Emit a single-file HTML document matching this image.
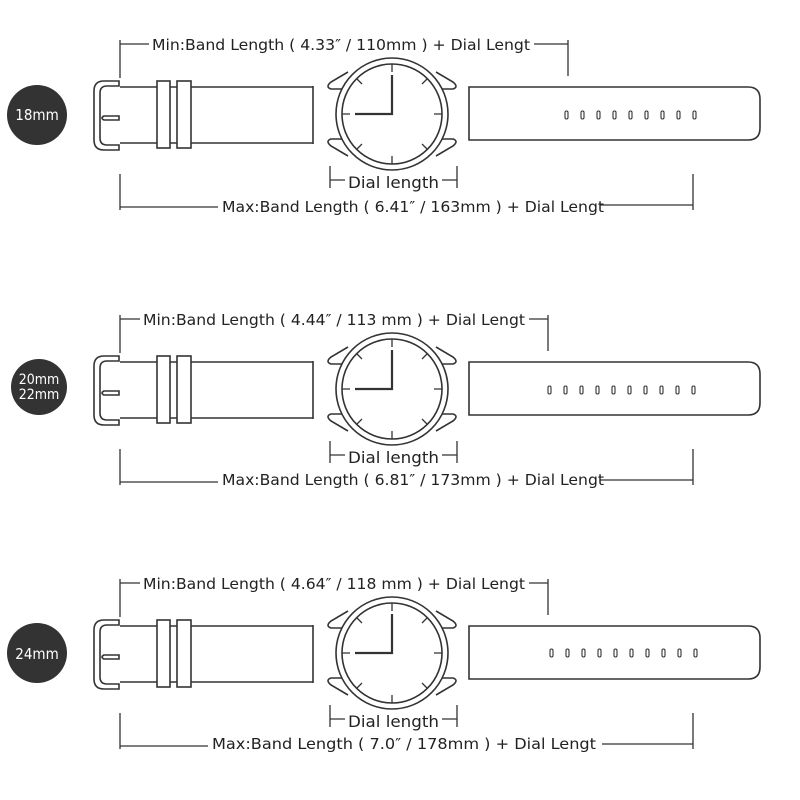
<!DOCTYPE html>
<html><head><meta charset="utf-8"><style>
html,body{margin:0;padding:0;background:#fff;}
svg{display:block;}
text{font-family:"DejaVu Sans Condensed","Liberation Sans",sans-serif;font-size:15px;fill:#222;}
</style></head><body>
<svg width="800" height="800" viewBox="0 0 800 800" xmlns="http://www.w3.org/2000/svg">
<defs>
<g id="strap" fill="none" stroke="#333" stroke-width="1.6">
  <!-- buckle -->
  <path d="M119,81 L104,81 Q94,81 94,91 L94,140 Q94,150 104,150 L119,150 L119,145 L107,145 Q100,145 100,138 L100,93 Q100,86 107,86 L119,86 Z"/>
  <path d="M104,116 L119,116 L119,120 L104,120 Q100,118 104,116 Z"/>
  <!-- left band -->
  <path d="M120,87 L313,87 M120,143 L313,143 M313,86 L313,144"/>
  <rect x="157" y="81" width="13" height="67" fill="#fff"/>
  <rect x="177" y="81" width="14" height="67" fill="#fff"/>
  <!-- watch lugs -->
  <path d="M348,72 L331,82 Q325,87 331,89 L342,89"/>
  <path d="M348,156 L331,146 Q325,141 331,139 L342,139"/>
  <path d="M436,72 L453,82 Q459,87 453,89 L442,89"/>
  <path d="M436,156 L453,146 Q459,141 453,139 L442,139"/>
  <circle cx="392" cy="114" r="56" fill="#fff"/>
  <circle cx="392" cy="114" r="50"/>
  <g stroke-width="1.3">
    <path d="M392,64 V72 M392,156 V164 M342,114 H350 M434,114 H442"/>
    <path d="M357,79 L362,84 M427,79 L422,84 M357,149 L362,144 M427,149 L422,144"/>
  </g>
  <path d="M392,75 V114 H355" stroke-width="2.2"/>
  <!-- right band -->
  <path d="M469,87 L748,87 Q760,87 760,99 L760,128 Q760,140 748,140 L469,140 Z" fill="#fff"/>
</g>
<rect id="hole" width="3" height="8" rx="1.5" fill="none" stroke="#333" stroke-width="1.1"/>
</defs>

<!-- Section 1 -->
<g>
  <circle cx="37" cy="115" r="30" fill="#333"/>
  <text x="37" y="120" text-anchor="middle" style="fill:#fff;font-size:15px">18mm</text>
  <use href="#strap"/>
  <g transform="translate(565,111)"><use href="#hole" x="0"/><use href="#hole" x="16"/><use href="#hole" x="32"/><use href="#hole" x="48"/><use href="#hole" x="64"/><use href="#hole" x="80"/><use href="#hole" x="96"/><use href="#hole" x="112"/><use href="#hole" x="128"/></g>
  <g stroke="#333" stroke-width="1.3" fill="none">
    <path d="M120,40 V78 M120,44 H149 M534,44 H568 M568,40 V76"/>
    <path d="M330,166 V188 M330,180 H345 M442,180 H457 M457,166 V188"/>
    <path d="M120,174 V210 M120,207 H218 M600,205 H693 M693,174 V210"/>
  </g>
  <text x="152" y="50" textLength="378" lengthAdjust="spacingAndGlyphs">Min:Band Length ( 4.33″ / 110mm ) + Dial Lengt</text>
  <text x="348" y="188" textLength="91" lengthAdjust="spacingAndGlyphs" style="font-size:16px">Dial length</text>
  <text x="222" y="212" textLength="382" lengthAdjust="spacingAndGlyphs">Max:Band Length ( 6.41″ / 163mm ) + Dial Lengt</text>
</g>

<!-- Section 2 -->
<g transform="translate(0,275)">
  <circle cx="39" cy="112" r="28" fill="#333"/>
  <text x="39" y="109" text-anchor="middle" style="fill:#fff;font-size:14px">20mm</text>
  <text x="39" y="124" text-anchor="middle" style="fill:#fff;font-size:14px">22mm</text>
  <use href="#strap"/>
  <g transform="translate(548,111)"><use href="#hole" x="0"/><use href="#hole" x="16"/><use href="#hole" x="32"/><use href="#hole" x="48"/><use href="#hole" x="64"/><use href="#hole" x="80"/><use href="#hole" x="96"/><use href="#hole" x="112"/><use href="#hole" x="128"/><use href="#hole" x="144"/></g>
  <g stroke="#333" stroke-width="1.3" fill="none">
    <path d="M120,40 V78 M120,44 H140 M529,44 H548 M548,40 V76"/>
    <path d="M330,166 V188 M330,180 H345 M442,180 H457 M457,166 V188"/>
    <path d="M120,174 V210 M120,207 H218 M600,205 H693 M693,174 V210"/>
  </g>
  <text x="143" y="50" textLength="382" lengthAdjust="spacingAndGlyphs">Min:Band Length ( 4.44″ / 113 mm ) + Dial Lengt</text>
  <text x="348" y="188" textLength="91" lengthAdjust="spacingAndGlyphs" style="font-size:16px">Dial length</text>
  <text x="222" y="210" textLength="382" lengthAdjust="spacingAndGlyphs">Max:Band Length ( 6.81″ / 173mm ) + Dial Lengt</text>
</g>

<!-- Section 3 -->
<g transform="translate(0,539)">
  <circle cx="37" cy="114" r="30" fill="#333"/>
  <text x="37" y="120" text-anchor="middle" style="fill:#fff;font-size:15px">24mm</text>
  <use href="#strap"/>
  <g transform="translate(550,110)"><use href="#hole" x="0"/><use href="#hole" x="16"/><use href="#hole" x="32"/><use href="#hole" x="48"/><use href="#hole" x="64"/><use href="#hole" x="80"/><use href="#hole" x="96"/><use href="#hole" x="112"/><use href="#hole" x="128"/><use href="#hole" x="144"/></g>
  <g stroke="#333" stroke-width="1.3" fill="none">
    <path d="M120,40 V78 M120,44 H140 M529,44 H548 M548,40 V76"/>
    <path d="M330,166 V188 M330,180 H345 M442,180 H457 M457,166 V188"/>
    <path d="M120,174 V210 M120,207 H208 M602,205 H693 M693,174 V210"/>
  </g>
  <text x="143" y="50" textLength="382" lengthAdjust="spacingAndGlyphs">Min:Band Length ( 4.64″ / 118 mm ) + Dial Lengt</text>
  <text x="348" y="188" textLength="91" lengthAdjust="spacingAndGlyphs" style="font-size:16px">Dial length</text>
  <text x="212" y="210" textLength="384" lengthAdjust="spacingAndGlyphs">Max:Band Length ( 7.0″ / 178mm ) + Dial Lengt</text>
</g>
</svg>
</body></html>
